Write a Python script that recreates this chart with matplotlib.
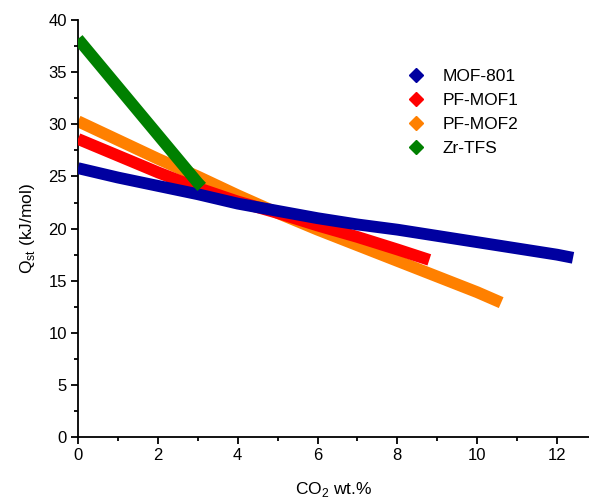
import matplotlib
matplotlib.use("Agg")
import matplotlib.pyplot as plt
from matplotlib.lines import Line2D
from matplotlib.ticker import MultipleLocator

plt.rcParams['font.family'] = ['Liberation Sans', 'DejaVu Sans']
plt.rcParams['mathtext.fontset'] = 'custom'
plt.rcParams['mathtext.rm'] = 'Liberation Sans'

# Qst vs CO2 loading
mof801_x = [0, 1, 2, 3, 4, 5, 6, 7, 8, 9, 10, 11, 12, 12.4]
mof801_y = [25.8, 24.9, 24.1, 23.3, 22.4, 21.7, 21.0, 20.4, 19.9, 19.3, 18.7, 18.1, 17.5, 17.2]

pfmof1_x = [0, 1, 2, 3, 4, 5, 6, 7, 8, 8.8]
pfmof1_y = [28.6, 27.0, 25.4, 23.9, 22.6, 21.5, 20.3, 19.2, 18.0, 17.0]

pfmof2_x = [0, 1, 2, 3, 4, 5, 6, 7, 8, 9, 10, 10.6]
pfmof2_y = [30.3, 28.5, 26.7, 25.0, 23.2, 21.5, 19.9, 18.4, 16.9, 15.4, 13.9, 12.9]

zrtfs_x = [0, 1, 2, 3, 3.1]
zrtfs_y = [38.2, 33.6, 29.0, 24.4, 24.0]

names = ['MOF-801', 'PF-MOF1', 'PF-MOF2', 'Zr-TFS']
colors = ['#0000A0', '#FF0000', '#FF8000', '#008000']

fig = plt.figure(figsize=(5.89, 5.03), dpi=100)
ax = fig.add_axes([0.1324, 0.131, 0.8676, 0.829])

series = [(mof801_x, mof801_y), (pfmof1_x, pfmof1_y), (pfmof2_x, pfmof2_y), (zrtfs_x, zrtfs_y)]
# draw order: blue on top of red/orange, green on top of all
order = [2, 1, 0, 3]
for i in order:
    xs, ys = series[i]
    ax.plot(xs, ys, color=colors[i], lw=8.5, solid_capstyle='butt', zorder=2 + order.index(i))

ax.set_xlim(0, 12.8)
ax.set_ylim(0, 40)
ax.xaxis.set_major_locator(MultipleLocator(2))
ax.xaxis.set_minor_locator(MultipleLocator(1))
ax.yaxis.set_major_locator(MultipleLocator(5))
ax.yaxis.set_minor_locator(MultipleLocator(2.5))

for s in ['top', 'right']:
    ax.spines[s].set_visible(False)
for s in ['left', 'bottom']:
    ax.spines[s].set_linewidth(1.3)
ax.tick_params(which='major', direction='out', length=5, width=1.3, labelsize=12, pad=3)
ax.tick_params(which='minor', direction='out', length=3, width=1.3)

ax.set_xlabel(r'CO$_\mathregular{2}$ wt.%', fontsize=12.5, labelpad=12)
ax.set_ylabel(r'Q$_\mathregular{st}$ (kJ/mol)', fontsize=12.5, labelpad=8)

handles = [Line2D([], [], ls='none', marker='D', markersize=7, color=c) for c in colors]
ax.legend(handles, names, frameon=False, loc='upper left', bbox_to_anchor=(0.605, 0.92),
          fontsize=12.5, handletextpad=0.8, labelspacing=0.5, handlelength=1.5)

fig.savefig('out.png', dpi=100)
